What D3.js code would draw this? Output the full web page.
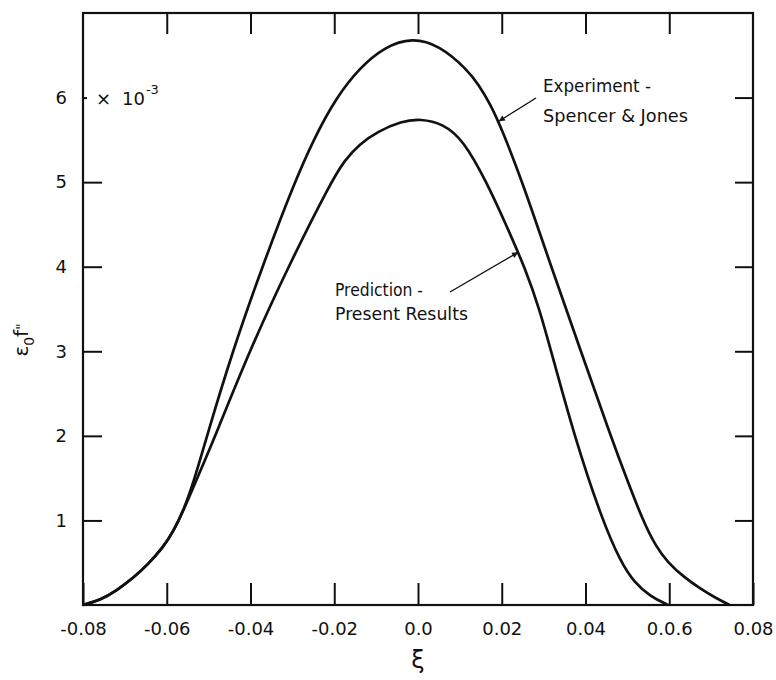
<!DOCTYPE html>
<html>
<head>
<meta charset="utf-8">
<script src="https://cdn.jsdelivr.net/npm/d3@7"></script>
<style>
  body { margin: 0; background: #fff; }
  svg { display: block; }
  text { font-family: "DejaVu Sans", "Liberation Sans", sans-serif; fill: #111; }
</style>
</head>
<body>
<svg id="chart" width="776" height="680"></svg>
<script>
"use strict"

// values (x = xi, y = eps0 f'' in units of 1e-3)
const experimentX = [-0.08, -0.0758, -0.072, -0.068, -0.0645, -0.0609, -0.0584, -0.0559, -0.0534, -0.0504, -0.0443, -0.0372, -0.0295, -0.0245, -0.0195, -0.014, -0.008, -0.0014,
    0.005, 0.0118, 0.0145, 0.0172, 0.020, 0.0251, 0.0318, 0.0389, 0.046, 0.050, 0.0537, 0.0567, 0.0597, 0.0635, 0.0675, 0.071, 0.0744]
const experimentY = [0, 0.06, 0.17, 0.32, 0.48, 0.68, 0.87, 1.13, 1.48, 2.0, 3.0, 4.0, 5.0, 5.55, 6.0, 6.35, 6.6, 6.71,
    6.62, 6.33, 6.15, 5.93, 5.63, 4.98, 4.0, 3.0, 2.0, 1.47, 1.0, 0.7, 0.5, 0.33, 0.19, 0.085, 0.0]

const predictionX = [-0.08, -0.0758, -0.072, -0.068, -0.0645, -0.0609, -0.0584, -0.0559, -0.0534, -0.051, -0.0484, -0.0403, -0.031, -0.0208, -0.0175, -0.014, -0.0096, -0.004, 0.0006,
    0.006, 0.0108, 0.0164, 0.021, 0.0256, 0.029, 0.0318, 0.0373, 0.044, 0.0485, 0.0516, 0.0555, 0.0597]
const predictionY = [0, 0.06, 0.17, 0.32, 0.48, 0.68, 0.87, 1.13, 1.42, 1.7, 2.0, 3.0, 4.0, 5.0, 5.26, 5.45, 5.6, 5.72, 5.75,
    5.69, 5.5, 5.0, 4.5, 3.98, 3.5, 3.0, 2.0, 1.0, 0.5, 0.27, 0.1, 0.0]

const xTicks = [-0.08, -0.06, -0.04, -0.02, 0.0, 0.02, 0.04, 0.06, 0.08]
const xTickLabels = ["-0.08", "-0.06", "-0.04", "-0.02", "0.0", "0.02", "0.04", "0.0.6", "0.08"]
const yTicks = [1, 2, 3, 4, 5, 6]

const svg = d3.select("#chart")

const plotLeft = 83, plotRight = 753, plotTop = 13, plotBottom = 605

const x = d3.scaleLinear().domain([-0.08, 0.08]).range([plotLeft, plotRight])
const y = d3.scaleLinear().domain([0, 7]).range([plotBottom, plotTop])

// axes, ticks pointing inwards
svg.append("g")
    .attr("transform", `translate(0,${plotBottom})`)
    .call(d3.axisBottom(x).tickValues(xTicks).tickSize(-22).tickSizeOuter(0).tickPadding(17)
        .tickFormat((d, i) => xTickLabels[i]))
    .call(g => g.select(".domain").remove())
    .call(g => g.selectAll(".tick line").attr("stroke", "#111").attr("stroke-width", 2))
    .call(g => g.selectAll(".tick text").attr("font-size", 18).attr("fill", "#111"))

svg.append("g")
    .attr("transform", `translate(0,${plotTop})`)
    .call(d3.axisTop(x).tickValues(xTicks.slice(1, -1)).tickSize(-21).tickSizeOuter(0).tickFormat(""))
    .call(g => g.select(".domain").remove())
    .call(g => g.selectAll(".tick line").attr("stroke", "#111").attr("stroke-width", 2))

svg.append("g")
    .attr("transform", `translate(${plotLeft},0)`)
    .call(d3.axisLeft(y).tickValues(yTicks).tickSize(-19).tickSizeOuter(0).tickPadding(16).tickFormat(d3.format("d")))
    .call(g => g.select(".domain").remove())
    .call(g => g.selectAll(".tick line").attr("stroke", "#111").attr("stroke-width", 2)
        .filter(d => d == 6).attr("x2", 4))
    .call(g => g.selectAll(".tick text").attr("font-size", 18).attr("fill", "#111"))

svg.append("g")
    .attr("transform", `translate(${plotRight},0)`)
    .call(d3.axisRight(y).tickValues(yTicks).tickSize(-18).tickSizeOuter(0).tickFormat(""))
    .call(g => g.select(".domain").remove())
    .call(g => g.selectAll(".tick line").attr("stroke", "#111").attr("stroke-width", 2))

svg.append("rect")
    .attr("x", plotLeft).attr("y", plotTop)
    .attr("width", plotRight - plotLeft).attr("height", plotBottom - plotTop)
    .attr("fill", "none").attr("stroke", "#111").attr("stroke-width", 2.2)

// curves (basis spline to keep the hand-drawn look smooth)
const line = d3.line()
    .x(d => x(d[0]))
    .y(d => y(d[1]))
    .curve(d3.curveBasis)

const experiment = experimentX.map((v, i) => [v, experimentY[i]])
const prediction = predictionX.map((v, i) => [v, predictionY[i]])

svg.append("path").datum(experiment)
    .attr("d", line).attr("fill", "none").attr("stroke", "#111").attr("stroke-width", 2.7)

svg.append("path").datum(prediction)
    .attr("d", line).attr("fill", "none").attr("stroke", "#111").attr("stroke-width", 2.7)

// arrows
svg.append("defs").append("marker")
    .attr("id", "head")
    .attr("viewBox", "0 0 10 10")
    .attr("refX", 10).attr("refY", 5)
    .attr("markerWidth", 9).attr("markerHeight", 6)
    .attr("markerUnits", "userSpaceOnUse")
    .attr("orient", "auto")
    .append("path").attr("d", "M0,0L10,5L0,10Z").attr("fill", "#111")

const arrows = [
    { from: [536, 98], to: [0.0193, 5.72] },
    { from: [450, 292], to: [0.0239, 4.17] },
]

svg.selectAll(".arrow").data(arrows).join("line")
    .attr("class", "arrow")
    .attr("x1", d => d.from[0]).attr("y1", d => d.from[1])
    .attr("x2", d => x(d.to[0])).attr("y2", d => y(d.to[1]))
    .attr("stroke", "#111").attr("stroke-width", 1.4)
    .attr("marker-end", "url(#head)")

// annotations
const notes = [
    { text: "Experiment -", x: 543, y: 92, w: 108 },
    { text: "Spencer & Jones", x: 543, y: 122, w: 145 },
    { text: "Prediction -", x: 335, y: 296, w: 88 },
    { text: "Present Results", x: 335, y: 320, w: 133 },
]

svg.selectAll(".note").data(notes).join("text")
    .attr("class", "note")
    .attr("x", d => d.x).attr("y", d => d.y)
    .attr("font-size", 18)
    .attr("textLength", d => d.w)
    .attr("lengthAdjust", "spacingAndGlyphs")
    .text(d => d.text)

// multiplier
const mult = svg.append("text").attr("x", 96).attr("y", 105).attr("font-size", 18)
mult.append("tspan").text("×")
mult.append("tspan").attr("x", 122).text("10")
mult.append("tspan").attr("dx", 1).attr("dy", -11).attr("font-size", 13).text("-3")

// axis titles
svg.append("text")
    .attr("x", 418).attr("y", 668)
    .attr("text-anchor", "middle")
    .attr("font-size", 24)
    .text("ξ")

const yTitle = svg.append("text")
    .attr("transform", "translate(28,340) rotate(-90)")
    .attr("text-anchor", "middle")
    .attr("font-size", 20)
yTitle.append("tspan").text("ε")
yTitle.append("tspan").attr("dy", 6).attr("font-size", 14).text("0")
yTitle.append("tspan").attr("dy", -6).text("f")
yTitle.append("tspan").attr("dy", -2).attr("font-size", 14).text("\"")
</script>
</body>
</html>
